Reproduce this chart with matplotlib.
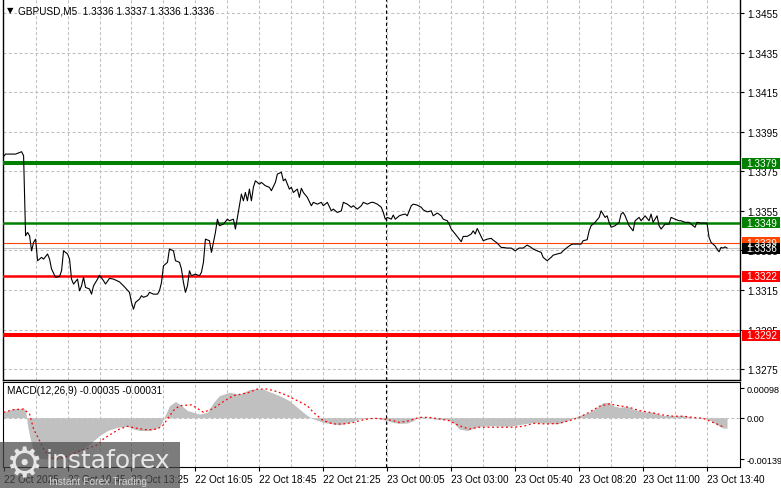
import matplotlib.pyplot as plt
import matplotlib.transforms as mtransforms
from matplotlib.patches import Rectangle

plt.rcParams['font.family'] = ['Liberation Sans', 'DejaVu Sans']

symbol_info = "GBPUSD,M5  1.3336 1.3337 1.3336 1.3336"
macd_info = "MACD(12,26,9) -0.00035 -0.00031"

# close prices (bar number, price)
bar_idx = [0, 1, 6, 9, 10, 11, 12, 13, 14, 15,
           16, 17, 19, 20, 22, 23, 24, 26, 28, 29,
           30, 32, 33, 34, 35, 37, 38, 39, 40, 41,
           43, 44, 45, 47, 48, 50, 51, 53, 55, 58,
           60, 63, 64, 65, 66, 68, 69, 70, 72, 73,
           75, 77, 78, 79, 80, 82, 83, 85, 86, 88,
           89, 90, 91, 92, 93, 94, 96, 98, 99, 100,
           101, 103, 104, 105, 106, 107, 108, 110, 112, 113,
           115, 116, 117, 118, 119, 120, 121, 122, 123, 124,
           125, 126, 128, 129, 131, 133, 134, 136, 137, 139,
           140, 141, 143, 144, 145, 147, 148, 149, 150, 152,
           154, 155, 157, 159, 160, 162, 164, 165, 167, 169,
           170, 172, 174, 175, 177, 179, 180, 182, 184, 185,
           187, 189, 190, 191, 192, 194, 195, 196, 198, 199,
           201, 202, 204, 205, 207, 209, 210, 212, 214, 215,
           217, 219, 220, 222, 223, 224, 226, 228, 229, 230,
           232, 234, 235, 236, 237, 239, 240, 242, 244, 245,
           247, 249, 250, 252, 254, 256, 258, 260, 262, 264,
           265, 267, 269, 270, 272, 274, 275, 277, 279, 280,
           282, 284, 285, 287, 289, 290, 292, 293, 294, 296,
           298, 299, 301, 302, 303, 304, 306, 308, 309, 310,
           311, 312, 313, 315, 316, 318, 319, 321, 323, 324,
           325, 327, 328, 329, 331, 333, 334, 336, 338, 339,
           341, 343, 344, 346, 347, 349, 352, 353, 354, 356,
           357, 358, 359, 360, 361, 362]
close = [1.33825, 1.33837, 1.33837, 1.33849, 1.33829, 1.33424, 1.33441, 1.33424, 1.33348, 1.33391,
         1.33407, 1.33298, 1.33315, 1.33306, 1.33332, 1.33306, 1.33256, 1.33214, 1.33219, 1.33247,
         1.33348, 1.33332, 1.33306, 1.33205, 1.33180, 1.33205, 1.33146, 1.33171, 1.33214, 1.33163,
         1.33155, 1.33129, 1.33171, 1.33205, 1.33225, 1.33197, 1.33180, 1.33209, 1.33205, 1.33191,
         1.33171, 1.33138, 1.33087, 1.33053, 1.33087, 1.33104, 1.33121, 1.33113, 1.33121, 1.33138,
         1.33129, 1.33129, 1.33146, 1.33188, 1.33272, 1.33290, 1.33357, 1.33348, 1.33298, 1.33290,
         1.33256, 1.33188, 1.33138, 1.33171, 1.33247, 1.33222, 1.33230, 1.33222, 1.33239, 1.33290,
         1.33407, 1.33399, 1.33340, 1.33391, 1.33441, 1.33508, 1.33475, 1.33483, 1.33508, 1.33500,
         1.33508, 1.33458, 1.33517, 1.33574, 1.33635, 1.33601, 1.33643, 1.33601, 1.33660, 1.33601,
         1.33669, 1.33702, 1.33685, 1.33694, 1.33677, 1.33669, 1.33652, 1.33694, 1.33736, 1.33745,
         1.33702, 1.33711, 1.33660, 1.33669, 1.33643, 1.33660, 1.33618, 1.33664, 1.33643, 1.33618,
         1.33576, 1.33593, 1.33584, 1.33593, 1.33576, 1.33593, 1.33550, 1.33559, 1.33542, 1.33550,
         1.33593, 1.33584, 1.33568, 1.33576, 1.33559, 1.33576, 1.33593, 1.33584, 1.33593, 1.33593,
         1.33584, 1.33568, 1.33542, 1.33508, 1.33517, 1.33508, 1.33529, 1.33508, 1.33525, 1.33529,
         1.33534, 1.33525, 1.33576, 1.33584, 1.33579, 1.33568, 1.33555, 1.33545, 1.33550, 1.33525,
         1.33539, 1.33525, 1.33508, 1.33500, 1.33483, 1.33458, 1.33433, 1.33407, 1.33394, 1.33421,
         1.33421, 1.33433, 1.33449, 1.33433, 1.33461, 1.33420, 1.33399, 1.33407, 1.33411, 1.33402,
         1.33387, 1.33365, 1.33365, 1.33362, 1.33362, 1.33348, 1.33362, 1.33362, 1.33377, 1.33365,
         1.33357, 1.33348, 1.33340, 1.33315, 1.33298, 1.33315, 1.33326, 1.33332, 1.33337, 1.33348,
         1.33365, 1.33379, 1.33382, 1.33382, 1.33382, 1.33399, 1.33404, 1.33449, 1.33475, 1.33492,
         1.33517, 1.33550, 1.33517, 1.33525, 1.33492, 1.33467, 1.33475, 1.33492, 1.33534, 1.33542,
         1.33525, 1.33500, 1.33475, 1.33449, 1.33500, 1.33517, 1.33500, 1.33525, 1.33500, 1.33534,
         1.33492, 1.33525, 1.33475, 1.33458, 1.33483, 1.33483, 1.33517, 1.33508, 1.33500, 1.33500,
         1.33492, 1.33492, 1.33483, 1.33467, 1.33492, 1.33488, 1.33488, 1.33416, 1.33391, 1.33373,
         1.33357, 1.33343, 1.33365, 1.33362, 1.33368, 1.33362]

# MACD main (histogram) and signal
hist_idx = [0, 5, 10, 11, 12, 13, 15, 18, 23, 32,
            40, 45, 48, 52, 57, 62, 65, 68, 73, 78,
            80, 83, 86, 88, 92, 95, 98, 102, 105, 108,
            113, 118, 123, 127, 130, 133, 138, 143, 148, 152,
            155, 160, 165, 168, 173, 178, 182, 187, 192, 195,
            198, 202, 205, 208, 212, 215, 222, 225, 228, 232,
            235, 238, 245, 252, 255, 260, 265, 272, 277, 282,
            285, 288, 293, 297, 300, 303, 305, 308, 312, 315,
            320, 325, 330, 335, 340, 345, 350, 354, 357, 360, 362]
hist_val = [0.00018, 0.00031, 0.00031, 0.00025, -0.00027, -0.00060, -0.00116, -0.00136, -0.00139, -0.00133,
            -0.00105, -0.00077, -0.00060, -0.00043, -0.00032, -0.00029, -0.00038, -0.00043, -0.00043, -0.00032,
            -0.00004, 0.00040, 0.00054, 0.00046, 0.00024, 0.00018, 0.00012, 0.00018, 0.00051, 0.00074,
            0.00085, 0.00079, 0.00094, 0.00098, 0.00096, 0.00087, 0.00074, 0.00057, 0.00029, 0.00007,
            -0.00004, -0.00016, -0.00021, -0.00024, -0.00016, -0.00004, -0.00002, -0.00002, -0.00010, -0.00016,
            -0.00019, -0.00018, -0.00010, 0.00005, 0.00001, -0.00004, -0.00007, -0.00016, -0.00038, -0.00043,
            -0.00036, -0.00029, -0.00027, -0.00029, -0.00027, -0.00021, -0.00016, -0.00018, -0.00021, -0.00010,
            -0.00002, 0.00007, 0.00018, 0.00035, 0.00051, 0.00051, 0.00040, 0.00035, 0.00038, 0.00029,
            0.00020, 0.00018, 0.00007, 0.00007, 0.00007, 0.00001, -0.00002, -0.00010, -0.00024, -0.00035, -0.00035]

sig_idx = [0, 5, 10, 13, 15, 18, 20, 23, 27, 32,
           37, 42, 47, 50, 53, 58, 62, 67, 72, 77,
           80, 82, 85, 88, 94, 97, 100, 105, 110, 115,
           122, 127, 132, 137, 142, 147, 152, 155, 160, 165,
           170, 175, 180, 185, 190, 195, 198, 203, 208, 213,
           218, 223, 228, 233, 238, 247, 255, 260, 265, 272,
           278, 283, 288, 293, 298, 303, 308, 313, 318, 325,
           330, 335, 340, 345, 350, 355, 358, 360]
sig_val = [0.00018, 0.00027, 0.00029, 0.00012, -0.00038, -0.00077, -0.00105, -0.00133, -0.00139, -0.00129,
           -0.00114, -0.00103, -0.00091, -0.00071, -0.00058, -0.00038, -0.00029, -0.00036, -0.00041, -0.00038,
           -0.00024, -0.00004, 0.00024, 0.00040, 0.00043, 0.00031, 0.00018, 0.00031, 0.00054, 0.00074,
           0.00083, 0.00096, 0.00096, 0.00087, 0.00074, 0.00057, 0.00040, 0.00018, -0.00010, -0.00021,
           -0.00021, -0.00016, -0.00007, -0.00002, -0.00004, -0.00010, -0.00016, -0.00010, 0.00001, 0.00001,
           -0.00004, -0.00010, -0.00027, -0.00038, -0.00032, -0.00032, -0.00032, -0.00029, -0.00019, -0.00021,
           -0.00019, -0.00010, 0.00001, 0.00018, 0.00038, 0.00046, 0.00040, 0.00035, 0.00024, 0.00016,
           0.00009, 0.00005, 0.00005, 0.00001, -0.00002, -0.00016, -0.00024, -0.00031]

price_ticks = [1.3275, 1.3295, 1.3315, 1.3335, 1.3355, 1.3375, 1.3395, 1.3415, 1.3435, 1.3455]
macd_ticks = [0.00098, 0.0, -0.00139]
macd_tick_labels = ["0.00098", "0.00", "-0.00139"]
time_labels = ["22 Oct 2025", "22 Oct 10:45", "22 Oct 13:25", "22 Oct 16:05", "22 Oct 18:45",
               "22 Oct 21:25", "23 Oct 00:05", "23 Oct 03:00", "23 Oct 05:40", "23 Oct 08:20",
               "23 Oct 11:00", "23 Oct 13:40"]

level_prices = [1.3379, 1.3349, 1.3322, 1.3292]
level_colors = ['#007f00', '#007f00', '#ff0000', '#ff0000']
level_widths = [2.9, 1.8, 1.8, 2.9]
order_price = 1.3339
bid_price = 1.3336
day_break = 191.3

W, H = 781, 489
fig = plt.figure(figsize=(W / 100, H / 100), dpi=100)


def px_rect(x0, y0, x1, y1):
    return [x0 / W, 1 - y1 / H, (x1 - x0) / W, (y1 - y0) / H]


ax = fig.add_axes(px_rect(3, -1, 740, 381))
ax2 = fig.add_axes(px_rect(3, 382.7, 740, 468))

grid_kw = dict(color='#c0c0c0', lw=0.75, ls=(0, (2.9, 2.2)), zorder=0)
xlim = (-0.3, 368.5)

# ---- price panel ----
ax.set_xlim(*xlim)
ax.set_ylim(1.32695, 1.34626)
for i in range(16, 368, 16):
    ax.axvline(i, **grid_kw)
for p in price_ticks:
    ax.axhline(p, **grid_kw)
ax.axvline(day_break, color='black', lw=0.8, ls=(0, (3, 2.5)), zorder=1)

ax.axhline(bid_price, color='#c0c0c0', lw=0.8, zorder=2)
ax.axhline(order_price, color='#ff4500', lw=0.8, zorder=2)
for p, c, w in zip(level_prices, level_colors, level_widths):
    ax.axhline(p, color=c, lw=w, zorder=3)
ax.plot(bar_idx, close, color='black', lw=0.8, zorder=4)

ax.set_xticks([])
ax.yaxis.tick_right()
ax.set_yticks(price_ticks)
ax.set_yticklabels([f"{p:.4f}" for p in price_ticks])
ax.tick_params(axis='y', direction='out', length=3, width=0.8, pad=2, labelsize=7.2)
ax.spines['top'].set_visible(False)
for s in ['left', 'right', 'bottom']:
    ax.spines[s].set_linewidth(1.0)

# price boxes on the right scale
blend = mtransforms.blended_transform_factory(ax.transAxes, ax.transData)
box_h = 11 * (1.34626 - 1.32695) / 382
box_items = [(1.3379, '#007f00', 'white'), (1.3349, '#007f00', 'white'),
             (order_price, '#ff4500', 'white'), (bid_price, 'black', 'white'),
             (1.3322, '#ff0000', 'white'), (1.3292, '#ff0000', 'white')]
for p, bg, fg in box_items:
    ax.add_patch(Rectangle((1.0027, p - box_h / 2), 0.0516, box_h, transform=blend,
                           facecolor=bg, edgecolor='none', clip_on=False, zorder=5))
    ax.text(1.0085, p, f"{p:.4f}", transform=blend, color=fg, fontsize=7.2,
            va='center', ha='left', clip_on=False, zorder=6)

fig.text(7 / W, 1 - 11 / H, "\u25bc", fontsize=6, va='center', ha='left', family='DejaVu Sans')
fig.text(18 / W, 1 - 11 / H, symbol_info, fontsize=7.2, va='center', ha='left')

# ---- MACD panel ----
ax2.set_xlim(*xlim)
ax2.set_ylim(-0.001652, 0.001206)
for i in range(16, 368, 16):
    ax2.axvline(i, **grid_kw)
ax2.axhline(0, **grid_kw)
ax2.fill_between(hist_idx, hist_val, 0, color='#c0c0c0', lw=0, zorder=1)
ax2.plot(sig_idx, sig_val, color='red', lw=0.9, ls=(0, (1.5, 2.2)), zorder=3)
ax2.axvline(day_break, color='black', lw=0.8, ls=(0, (3, 2.5)), zorder=2)

ax2.yaxis.tick_right()
ax2.set_yticks(macd_ticks)
ax2.set_yticklabels(macd_tick_labels)
ax2.tick_params(axis='y', direction='out', length=3, width=0.8, pad=1.5, labelsize=6.6)
ax2.set_xticks(range(0, 32 * len(time_labels), 32))
ax2.set_xticklabels(time_labels)
ax2.tick_params(axis='x', direction='out', length=3, width=0.8, pad=2, labelsize=7.2)
for lbl in ax2.get_xticklabels():
    lbl.set_ha('left')
ax2.text(0.006, 0.96, macd_info, transform=ax2.transAxes, fontsize=7.2, va='top', ha='left')

# ---- watermark ----
fig.patches.append(Rectangle((0, 0), 180 / W, 46 / H, transform=fig.transFigure,
                             facecolor='#4a4a4a', alpha=0.72, edgecolor='none', zorder=10))
fig.text(24 / W, 1 - 465 / H, "\u2699", fontsize=30, color='#e6e6e6', ha='center', va='center',
         family='DejaVu Sans', zorder=11)
fig.text(46 / W, 1 - 461 / H, "instaforex", fontsize=18, color='#e6e6e6', ha='left', va='center',
         family='DejaVu Sans', zorder=11)
fig.text(49 / W, 1 - 482 / H, "Instant Forex Trading", fontsize=7.5, color='#d0d0d0', ha='left',
         va='center', zorder=11)

fig.savefig('out.png', dpi=100)
